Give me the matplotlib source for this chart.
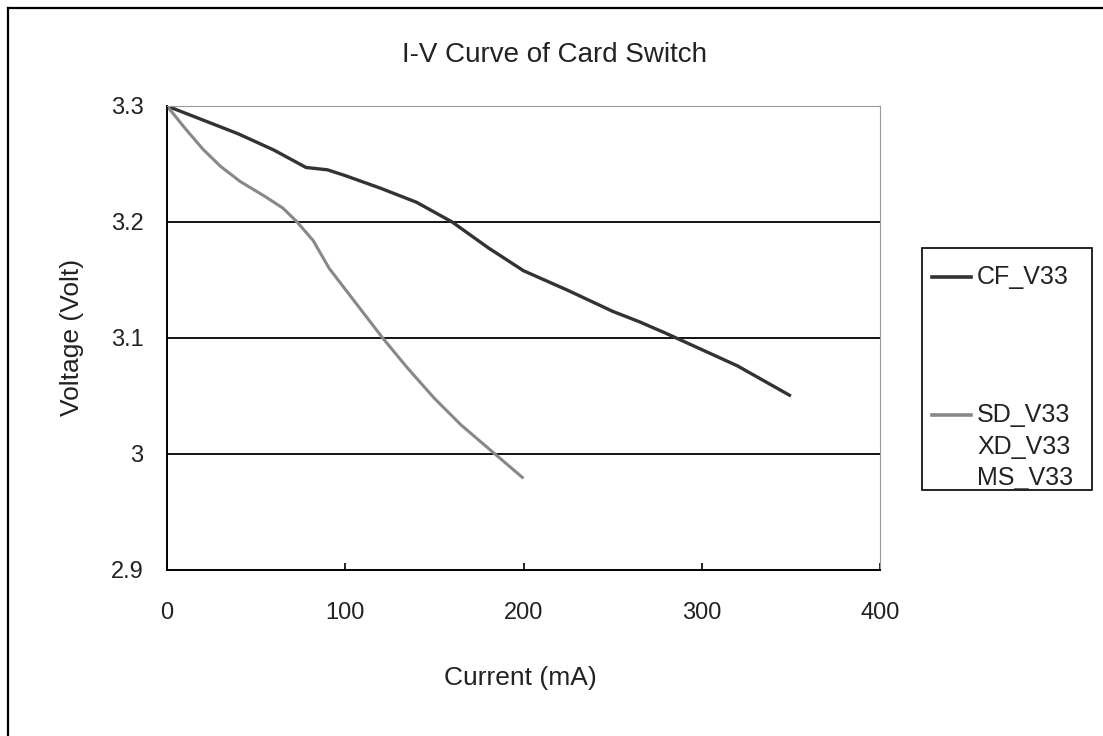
import matplotlib
matplotlib.use("Agg")
import matplotlib.pyplot as plt
from matplotlib.lines import Line2D
from matplotlib.patches import Rectangle

plt.rcParams["font.family"] = ["Liberation Sans", "DejaVu Sans"]

# I-V readings (current in mA, voltage in V)
cf_current = [0, 20, 40, 60, 78, 90, 100, 120, 140, 160, 180, 200, 225, 250, 265, 280, 300, 320, 350]
cf_voltage = [3.300, 3.288, 3.276, 3.262, 3.247, 3.245, 3.240, 3.229, 3.217, 3.200, 3.178, 3.158, 3.141, 3.123, 3.114, 3.104, 3.090, 3.076, 3.050]

sd_current = [0, 10, 20, 30, 41, 55, 65, 73, 82, 91, 100, 110, 121, 135, 150, 165, 184, 200]
sd_voltage = [3.300, 3.281, 3.263, 3.248, 3.235, 3.222, 3.212, 3.200, 3.184, 3.160, 3.142, 3.122, 3.100, 3.074, 3.048, 3.025, 3.000, 2.979]

legend_labels = ["CF_V33", "SD_V33", "XD_V33", "MS_V33"]

CF_COLOR = "#333333"
SD_COLOR = "#888888"
TXT = "#222222"
W, H = 1103, 736

fig = plt.figure(figsize=(11.03, 7.36), dpi=100)
ax = fig.add_axes([167 / W, 1 - 570 / H, (880 - 167) / W, (570 - 106) / H])

ax.plot(cf_current, cf_voltage, color=CF_COLOR, lw=2.4, solid_capstyle="butt")
ax.plot(sd_current, sd_voltage, color=SD_COLOR, lw=2.2, solid_capstyle="butt")

ax.set_xlim(0, 400)
ax.set_ylim(2.9, 3.3)
ax.set_xticks([0, 100, 200, 300, 400])
ax.set_yticks([2.9, 3.0, 3.1, 3.2, 3.3])
ax.set_yticklabels(["2.9", "3", "3.1", "3.2", "3.3"])
for yv in [3.0, 3.1, 3.2]:
    ax.axhline(yv, color="black", lw=1.3, zorder=0)

ax.tick_params(axis="x", direction="in", length=5, width=1.2, pad=23, labelsize=17)
ax.tick_params(axis="y", length=0, pad=17, labelsize=17)
for lab in ax.get_xticklabels() + ax.get_yticklabels():
    lab.set_color(TXT)

ax.spines["left"].set_color("black")
ax.spines["bottom"].set_color("black")
ax.spines["left"].set_linewidth(1.4)
ax.spines["bottom"].set_linewidth(1.4)
ax.spines["top"].set_color("#999999")
ax.spines["right"].set_color("#999999")

fig.text(520 / W, 1 - 678 / H, "Current (mA)", fontsize=19, ha="center", va="center", color=TXT)
fig.text(72 / W, 1 - 337 / H, "Voltage (Volt)", fontsize=19, rotation=90,
         ha="center", va="center", color=TXT)
fig.text(555 / W, 1 - 55 / H, "I-V Curve of Card Switch", fontsize=20,
         ha="center", va="center", color=TXT)

# legend drawn by hand to keep Excel's odd spacing
fig.add_artist(Rectangle((922 / W, 1 - 490 / H), 170 / W, 242 / H,
                         transform=fig.transFigure, fill=False, ec="black", lw=1.2))
rows_y = [277, 415, 447, 478]
handle_colors = [CF_COLOR, SD_COLOR, None, None]
for label, yp, col in zip(legend_labels, rows_y, handle_colors):
    if col is not None:
        fig.add_artist(Line2D([932 / W, 971 / W], [1 - yp / H, 1 - yp / H],
                              transform=fig.transFigure, color=col, lw=2.6))
    fig.text(977 / W, 1 - yp / H, label, fontsize=18, ha="left", va="center", color=TXT)

# outer chart frame (only left/top edges are visible in the crop)
fig.add_artist(Line2D([7.5 / W, 7.5 / W], [0, 1 - 8 / H], transform=fig.transFigure,
                      color="black", lw=1.6))
fig.add_artist(Line2D([7.5 / W, 1], [1 - 8 / H, 1 - 8 / H], transform=fig.transFigure,
                      color="black", lw=1.6))

fig.savefig("out.png", dpi=100)
